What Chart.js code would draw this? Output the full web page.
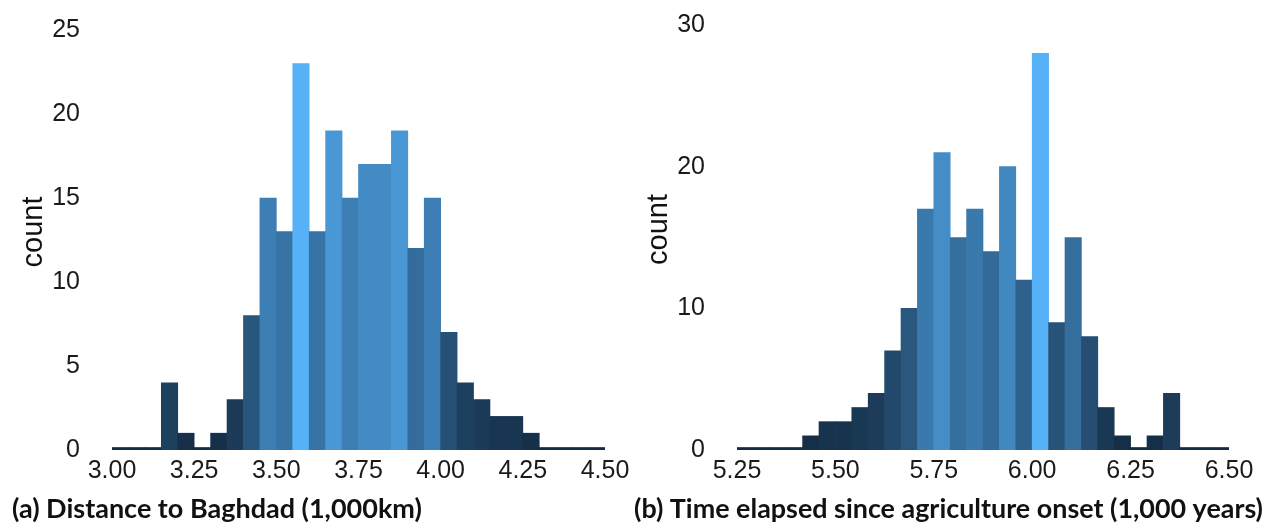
<!DOCTYPE html>
<html>
<head>
<meta charset="utf-8">
<script src="https://cdn.jsdelivr.net/npm/chart.js@4.4.1/dist/chart.umd.min.js"></script>
<style>
  html, body { margin: 0; padding: 0; background: #fff; }
  #wrap { position: relative; width: 1263px; height: 525px; }
  .panel { position: absolute; top: 0; height: 525px; }
  #left { left: 0; width: 631px; }
  #right { left: 631px; width: 632px; }
</style>
</head>
<body>
<div id="wrap">
  <div class="panel" id="left"><canvas id="distChart"></canvas></div>
  <div class="panel" id="right"><canvas id="timeChart"></canvas></div>
</div>
<script>
// (a) distance to Baghdad, 30 bins from 3.00 to 4.50
const distStart = 3.0;
const distStep = 0.05;
const distCounts = [0, 0, 0, 4, 1, 0, 1, 3, 8, 15, 13, 23, 13, 19, 15, 17, 17, 19, 12, 15, 7, 4, 3, 2, 2, 1, 0, 0, 0, 0];
const distXTicks = [3.00, 3.25, 3.50, 3.75, 4.00, 4.25, 4.50];
const distYTicks = [0, 5, 10, 15, 20, 25];

// (b) time since agriculture onset, 30 bins from 5.25 to 6.50
const timeStart = 5.25;
const timeStep = 1.25 / 30;
const timeCounts = [0, 0, 0, 0, 1, 2, 2, 3, 4, 7, 10, 17, 21, 15, 17, 14, 20, 12, 28, 9, 15, 8, 3, 1, 0, 1, 4, 0, 0, 0];
const timeXTicks = [5.25, 5.50, 5.75, 6.00, 6.25, 6.50];
const timeYTicks = [0, 10, 20, 30];

// ggplot default fill gradient, interpolated in Lab
const LOW = '#132B43', HIGH = '#56B1F7';

function toLab(hex) {
  const lin = [1, 3, 5].map(i => {
    const c = parseInt(hex.substr(i, 2), 16) / 255;
    return c <= 0.04045 ? c / 12.92 : Math.pow((c + 0.055) / 1.055, 2.4);
  });
  const [r, g, b] = lin;
  const x = (0.4124 * r + 0.3576 * g + 0.1805 * b) / 0.95047;
  const y = 0.2126 * r + 0.7152 * g + 0.0722 * b;
  const z = (0.0193 * r + 0.1192 * g + 0.9505 * b) / 1.08883;
  const f = t => t > 0.008856 ? Math.cbrt(t) : 7.787 * t + 16 / 116;
  const fx = f(x), fy = f(y), fz = f(z);
  return [116 * fy - 16, 500 * (fx - fy), 200 * (fy - fz)];
}

function fromLab([L, a, bb]) {
  const fy = (L + 16) / 116, fx = fy + a / 500, fz = fy - bb / 200;
  const inv = t => t * t * t > 0.008856 ? t * t * t : (t - 16 / 116) / 7.787;
  const x = inv(fx) * 0.95047, y = inv(fy), z = inv(fz) * 1.08883;
  const lin = [
    3.2406 * x - 1.5372 * y - 0.4986 * z,
    -0.9689 * x + 1.8758 * y + 0.0415 * z,
    0.0557 * x - 0.2040 * y + 1.0570 * z
  ];
  const out = lin.map(c => {
    c = c <= 0.0031308 ? 12.92 * c : 1.055 * Math.pow(c, 1 / 2.4) - 0.055;
    return Math.round(Math.max(0, Math.min(1, c)) * 255);
  });
  return 'rgb(' + out.join(',') + ')';
}

const lowLab = toLab(LOW), highLab = toLab(HIGH);
function fillFor(count, max) {
  const t = count / max;
  return fromLab(lowLab.map((v, i) => v + (highLab[i] - v) * t));
}

const tickFont = { family: "'Liberation Sans', Arial, sans-serif", size: 25 };
const titleFont = { family: 'Lato', weight: 'bold', size: 27 };

function makeHist(canvasId, opts) {
  const max = Math.max(...opts.counts);
  const points = opts.counts.map((c, i) => ({ x: opts.start + (i + 0.5) * opts.step, y: c }));
  return new Chart(document.getElementById(canvasId), {
    type: 'bar',
    data: {
      datasets: [{
        data: points,
        backgroundColor: opts.counts.map(c => fillFor(c, max)),
        borderWidth: 0,
        barPercentage: 1,
        categoryPercentage: 1,
        minBarLength: 2.5
      }]
    },
    options: {
      responsive: true,
      maintainAspectRatio: false,
      animation: false,
      layout: { padding: { left: opts.padLeft, top: opts.padTop, right: 0, bottom: 0 } },
      plugins: {
        legend: { display: false },
        tooltip: { enabled: false },
        title: {
          display: true,
          text: opts.title,
          position: 'bottom',
          align: 'start',
          color: '#111',
          font: titleFont,
          padding: { top: 0, bottom: 0 }
        }
      },
      scales: {
        x: {
          type: 'linear',
          offset: false,
          min: opts.xTicks[0],
          max: opts.xTicks[opts.xTicks.length - 1],
          grid: { display: false, drawTicks: false },
          border: { display: false },
          afterBuildTicks: s => { s.ticks = opts.xTicks.map(v => ({ value: v })); },
          ticks: {
            color: '#1a1a1a',
            font: tickFont,
            padding: 6,
            maxRotation: 0,
            autoSkip: false,
            callback: v => v.toFixed(2)
          },
          afterFit: s => {
            s.height = 525 - 450 - titleFont.size * 1.2;
            s.paddingLeft = 0;
            s.paddingRight = opts.padRight;
          }
        },
        y: {
          min: 0,
          max: opts.yTicks[opts.yTicks.length - 1],
          grid: { display: false, drawTicks: false },
          border: { display: false },
          afterBuildTicks: s => { s.ticks = opts.yTicks.map(v => ({ value: v })); },
          ticks: { color: '#1a1a1a', font: tickFont, padding: 32 },
          title: {
            display: true,
            text: '  count',
            color: '#111',
            font: { family: "'Liberation Sans', Arial, sans-serif", size: 29 },
            padding: { top: opts.titlePad, bottom: 0 }
          },
          afterFit: s => {
            s.width = opts.yWidth;
            s.paddingTop = 0;
            s.paddingBottom = 0;
          }
        }
      }
    }
  });
}

makeHist('distChart', {
  counts: distCounts, start: distStart, step: distStep,
  xTicks: distXTicks, yTicks: distYTicks,
  title: '(a) Distance to Baghdad (1,000km)',
  padLeft: 12, padTop: 30, padRight: 26, yWidth: 100, titlePad: 5
});

makeHist('timeChart', {
  counts: timeCounts, start: timeStart, step: timeStep,
  xTicks: timeXTicks, yTicks: timeYTicks,
  title: '(b) Time elapsed since agriculture onset (1,000 years)',
  padLeft: 3, padTop: 25, padRight: 34, yWidth: 103, titlePad: 8
});
</script>
</body>
</html>
